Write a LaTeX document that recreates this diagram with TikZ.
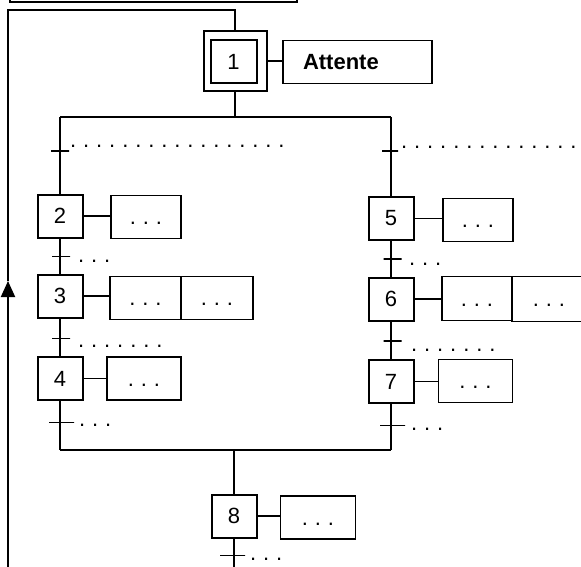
\documentclass[tikz,border=0pt]{standalone}
\usepackage{fontspec}
\setmainfont{Liberation Sans}
\usetikzlibrary{arrows.meta}
\newcommand\grand{\fontsize{22}{26}\selectfont\spaceskip=6.9pt\relax\xspaceskip=6.9pt\relax}

\begin{document}
\begin{tikzpicture}[x=1pt,y=-1pt,
    every node/.style={font=\grand},
    etape/.style={draw,line width=2pt,minimum width=45,minimum height=43,inner sep=0},
    action/.style={draw,line width=1.8pt,minimum height=43,inner sep=0,
                   text height=16pt,text depth=1pt},
    franchir/.style={draw,line width=1.7pt,minimum width=18,minimum height=0,inner sep=0},
    pointilles/.style={anchor=base west,inner sep=0},
    liaison/.style={line width=1.9pt},
    jonction/.style={line width=2.3pt},
    fl/.style={-{Triangle[length=16pt,width=14pt]},line width=1.9pt},
  ]
  \useasboundingbox (0,0) rectangle (581,567);
  \clip (0,0) rectangle (581,567);

  % cadre du haut (coupe)
  \node[draw,line width=1.7pt,minimum width=287,minimum height=30,inner sep=0] (cadre) at (153.5,-13) {};

  % etape initiale
  \node[etape,minimum width=63,minimum height=60] (e1x) at (235,61) {};
  \node[etape,minimum width=46] (e1) at (233.5,62) {1};
  \node[action,text width=109pt,inner xsep=20pt,align=left] (a1) at (357.5,62) {\textbf{Attente}};
  \draw[liaison] (e1x.east) -- (e1x.east -| a1.west);

  % etapes
  \node[etape] (e2) at (60,216) {2};
  \node[etape] (e3) at (60,296) {3};
  \node[etape] (e4) at (60,378.5) {4};
  \node[etape] (e5) at (391,218.5) {5};
  \node[etape] (e6) at (391,299) {6};
  \node[etape] (e7) at (391,381.5) {7};
  \node[etape] (e8) at (234,516) {8};

  % actions
  \node[action,minimum width=70] (a2) at (146,217) {. . .};
  \node[action,minimum width=71] (a3a) at (145.5,298) {. . .};
  \node[action,minimum width=72] (a3b) at (217,298) {. . .};
  \node[action,minimum width=74] (a4) at (144,378.5) {. . .};
  \node[action,minimum width=70] (a5) at (478,220) {. . .};
  \node[action,minimum width=70,minimum height=44] (a6a) at (477,298.5) {. . .};
  \node[action,minimum width=74,minimum height=45] (a6b) at (549,299) {. . .};
  \node[action,minimum width=74] (a7) at (475.5,381) {. . .};
  \node[action,minimum width=75] (a8) at (318,517.5) {. . .};

  \draw[liaison] (e2.east) -- (e2.east -| a2.west);
  \draw[liaison] (e3.east) -- (e3.east -| a3a.west);
  \draw[liaison] (e4.east) -- (e4.east -| a4.west);
  \draw[liaison] (e5.east) -- (e5.east -| a5.west);
  \draw[liaison] (e6.east) -- (e6.east -| a6a.west);
  \draw[liaison] (e7.east) -- (e7.east -| a7.west);
  \draw[liaison] (e8.east) -- (e8.east -| a8.west);

  % divergence / convergence
  \coordinate (dg) at (60,117);
  \coordinate (dd) at (391,117);
  \coordinate (cg) at (60,450);
  \coordinate (cd) at (391,450);
  \coordinate (bas) at (234,575);
  \draw[liaison] (e1x.south) -- (e1x.south |- dg);
  \draw[jonction] (dg) -- (dd);
  \draw[jonction] (cg) -- (cd);
  \draw[liaison] (dg) -- (e2) -- (e3) -- (e4) -- (cg);
  \draw[liaison] (dd) -- (e5) -- (e6) -- (e7) -- (cd);
  \draw[liaison] (e8 |- cg) -- (e8) -- (bas);

  % transitions
  \node[franchir] (t1g) at (60,151) {};
  \node[franchir] (t23) at (61,256.5) {};
  \node[franchir] (t34) at (61,338.5) {};
  \node[franchir,minimum width=25] (t4) at (61.5,422.5) {};
  \node[franchir,minimum width=16] (t1d) at (390,151) {};
  \node[franchir] (t56) at (392.5,259) {};
  \node[franchir] (t67) at (392.5,341) {};
  \node[franchir,minimum width=25] (t7) at (392.5,425.5) {};
  \node[franchir,minimum width=25] (t8) at (232.5,555.5) {};

  \node[pointilles] (c1g) at (70,147.5) {. . . . . . . . . . . . . . . . .};
  \node[pointilles] (c23) at (78,262.5) {. . .};
  \node[pointilles] (c34) at (78,347) {. . . . . . .};
  \node[pointilles] (c4) at (79,426.5) {. . .};
  \node[pointilles] (c1d) at (401,148.5) {. . . . . . . . . . . . . .};
  \node[pointilles] (c56) at (409,265.5) {. . .};
  \node[pointilles] (c67) at (411,351) {. . . . . . .};
  \node[pointilles] (c7) at (411,430) {. . .};
  \node[pointilles] (c8) at (250,560.5) {. . .};

  % retour vers l'etape initiale
  \coordinate (retour) at (8,575);
  \coordinate (fleche) at (8,281);
  \coordinate (coin) at (8,10);
  \draw[fl] (retour) -- (fleche);
  \draw[liaison] (fleche) -- (coin) -- (coin -| e1x.north) -- (e1x.north);
\end{tikzpicture}
\end{document}
